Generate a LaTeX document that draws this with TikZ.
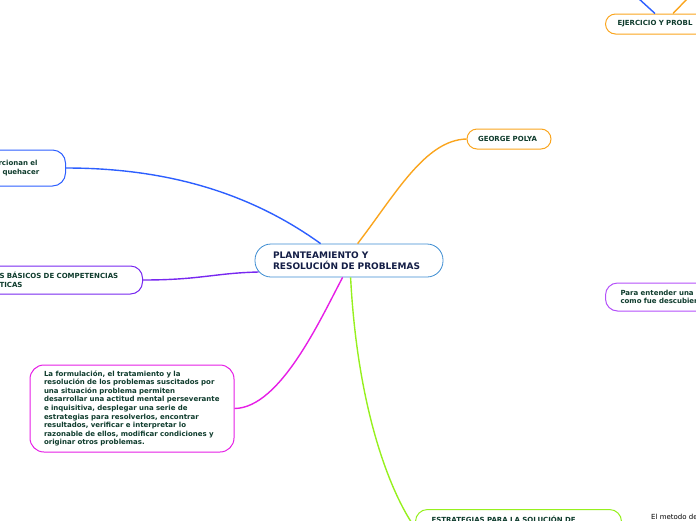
\documentclass[tikz,border=0pt]{standalone}
\usepackage{fontspec}
\setmainfont{DejaVu Sans}
\usetikzlibrary{calc}
\definecolor{cblue}{RGB}{60,140,210}
\definecolor{lblue}{RGB}{45,95,255}
\definecolor{violet}{RGB}{120,40,240}
\definecolor{magen}{RGB}{230,30,230}
\definecolor{lime}{RGB}{150,240,30}
\definecolor{orng}{RGB}{250,165,30}
\definecolor{lpurp}{RGB}{180,80,250}
\definecolor{txt}{RGB}{15,60,45}
\definecolor{ctxt}{RGB}{20,30,70}
\begin{document}
\begin{tikzpicture}[x=1pt,y=-1pt,
  box/.style={draw=#1, line width=1pt, rounded corners=10pt, fill=white, text=txt,
    font=\bfseries\fontsize{7}{8.6}\selectfont, align=left, inner ysep=0pt},
  link/.style={draw=#1, line width=1.4pt}]
\useasboundingbox (0,0) rectangle (696,520);
\clip (0,0) rectangle (696,520);

% central
\node[draw=cblue, line width=0.8pt, rounded corners=16pt, fill=white, text=ctxt,
  font=\bfseries\fontsize{9}{11}\selectfont, align=left, text width=152pt,
  inner xsep=18pt, inner ysep=0pt, minimum height=33pt] (c) at (349,260.5)
  {PLANTEAMIENTO Y\\RESOLUCIÓN DE PROBLEMAS};

% right side
\node[box=orng, text width=62pt, inner xsep=11pt, minimum height=20pt] (gp) at (509,139) {GEORGE POLYA};
\node[box=orng, anchor=west, text width=140pt, inner xsep=12pt, minimum height=20pt] (ej) at (605,24) {EJERCICIO Y PROBL};
\node[box=lpurp, anchor=west, text width=150pt, inner xsep=15pt, minimum height=28pt, rounded corners=12pt] (pe) at (605,297) {Para entender una\\como fue descubier};

% left side
\node[box=lblue, anchor=east, text width=41pt, inner xsep=26pt, minimum height=36pt, rounded corners=13pt] (lt) at (66,168) {\mbox{rcionan el}\\\mbox{\hspace*{4pt}quehacer}};
\node[box=violet, anchor=east, text width=121pt, inner xsep=22pt, minimum height=28pt, rounded corners=12pt] (lm) at (143,280) {S BÁSICOS DE COMPETENCIAS\\TICAS};
\node[box=magen, text width=176pt, inner xsep=14pt, minimum height=87pt, rounded corners=14pt] (bl) at (132,408.5)
  {La formulación, el tratamiento y la\\
   resolución de los problemas suscitados por\\
   una situación problema permiten\\
   desarrollar una actitud mental perseverante\\
   e inquisitiva, desplegar una serie de\\
   estrategias para resolverlos, encontrar\\
   resultados, verificar e interpretar lo\\
   razonable de ellos, modificar condiciones y\\
   originar otros problemas.};

% bottom
\node[box=lime, anchor=north west, text width=174pt, inner xsep=16pt, inner ysep=7pt,
  text height=6pt, text depth=16pt, rounded corners=12pt] (gr) at (415,509) {ESTRATEGIAS PARA LA SOLUCIÓN DE};
\node[anchor=base west, font=\fontsize{7}{8}\selectfont, inner sep=0pt] (em) at (651,519) {El metodo de};

% connectors
\coordinate (tb) at (638,-2);
\coordinate (to) at (688,-2);
\draw[link=lblue] (tb) -- ($(ej.north west)+(50,0)$);
\draw[link=orng] (to) -- ($(ej.north west)+(68,0)$);

\draw[link=lblue] (lt.east) .. controls (180,168) and (260,200) .. ($(c.north west)+(66,0)$);
\draw[link=violet] (lm.east) .. controls (200,280) and (215,273) .. ($(c.west)+(4,11.5)$);
\draw[link=magen] (bl.east) .. controls (280,408) and (320,320) .. ($(c.south west)+(88,0)$);
\draw[link=lime] ($(c.south west)+(96,0)$) .. controls (358,420) and (395,500) .. (gr.west);
\draw[link=orng] ($(c.north west)+(103,0)$) .. controls (395,195) and (425,140) .. (gp.west);
\end{tikzpicture}
\end{document}
